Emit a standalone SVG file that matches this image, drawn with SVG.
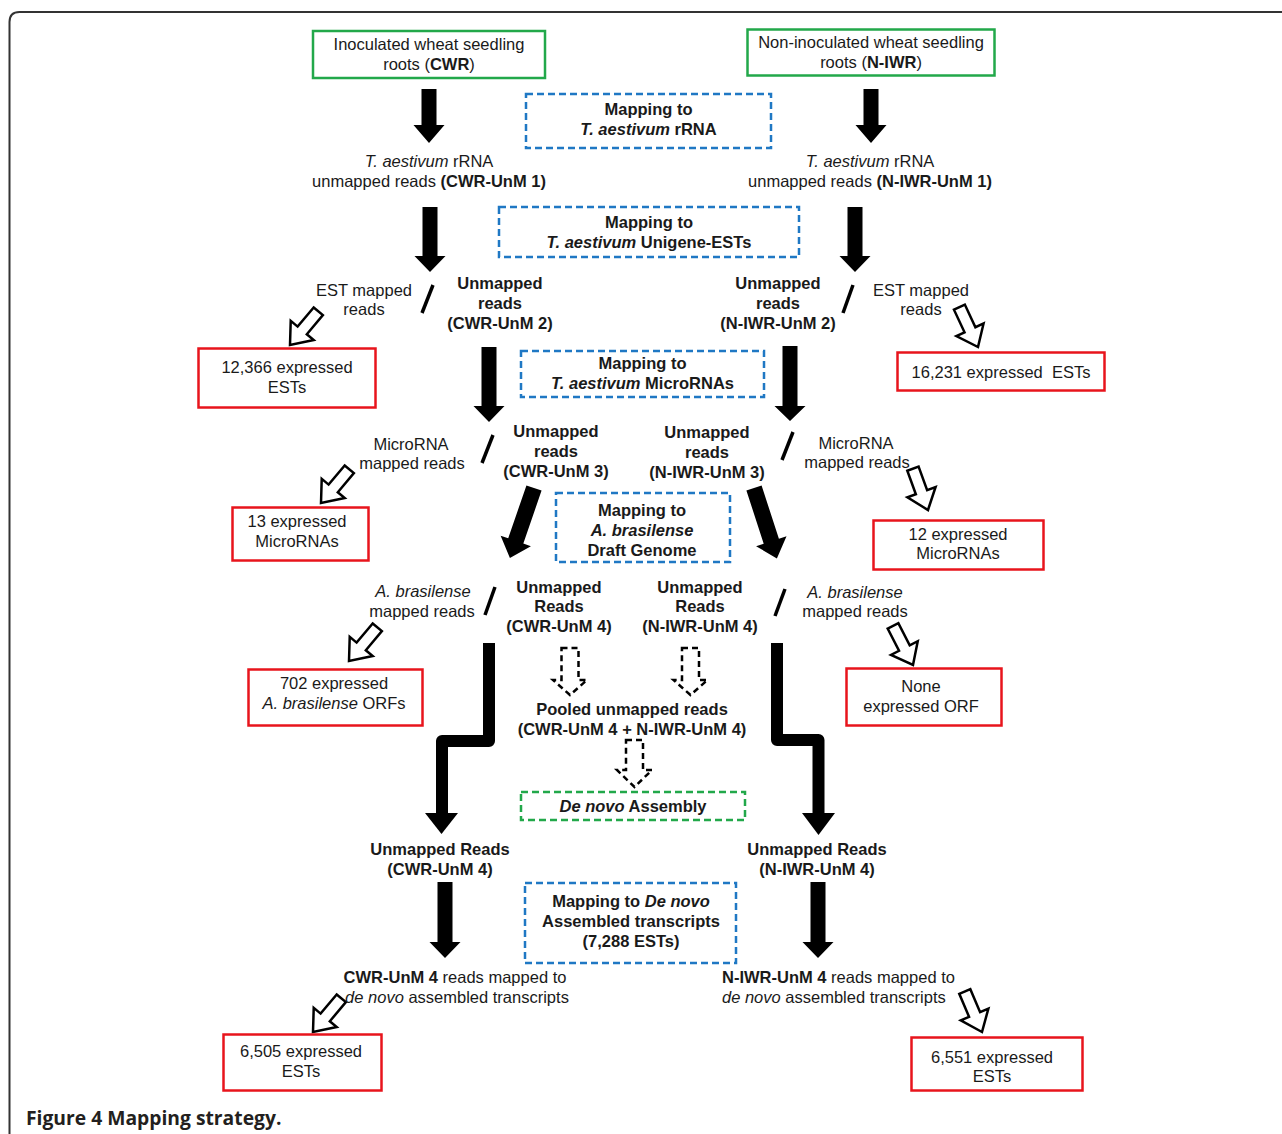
<svg xmlns="http://www.w3.org/2000/svg" xmlns:xlink="http://www.w3.org/1999/xlink" width="1282" height="1134" viewBox="0 0 1282 1134">
<style>
.t{font-family:"Liberation Sans",Arial,sans-serif;font-size:16.5px;fill:#1a1a1a;text-anchor:middle}
.b{font-weight:bold}
.i{font-style:italic}
.gbox{fill:none;stroke:#22a84a;stroke-width:2.5}
.gdash{fill:none;stroke:#22a84a;stroke-width:2.5;stroke-dasharray:7 4}
.bbox{fill:none;stroke:#1f78c4;stroke-width:2.5;stroke-dasharray:7 4}
.rbox{fill:none;stroke:#e8141c;stroke-width:2.5}
.arrow{fill:#000}
.oarrow{fill:#fff;stroke:#000;stroke-width:2.5}
.darrow{fill:#fff;stroke:#000;stroke-width:2.5;stroke-dasharray:6 4}
.slash{stroke:#000;stroke-width:3.5}
.bent{fill:none;stroke:#000;stroke-width:12;stroke-linejoin:round}
.cap{font-family:"Open Sans","Liberation Sans",sans-serif;font-size:19.3px;font-weight:bold;fill:#231f20}
</style>
<defs>
<path id="oa" d="M-6,-44 H6 V-19 H15 L0,0 L-15,-19 H-6 Z"/>
<path id="da" d="M-8,0 H8 V56 H16 L0,74 L-16,56 H-8 Z"/>
</defs>
<rect width="1282" height="1134" fill="#fff"/>
<path d="M9.5,1134 V22 Q9.5,12 19.5,12 H1282" fill="none" stroke="#333" stroke-width="2"/>

<g id="connectors">
<polygon class="arrow" points="421.5,89 436.5,89 436.5,125 444.5,125 429,143 413.5,125 421.5,125"/>
<polygon class="arrow" points="863.5,89 878.5,89 878.5,125 886.5,125 871,143 855.5,125 863.5,125"/>
<polygon class="arrow" points="422.5,207 437.5,207 437.5,256 445.5,256 430,272 414.5,256 422.5,256"/>
<polygon class="arrow" points="847.5,207 862.5,207 862.5,256 870.5,256 855,272 839.5,256 847.5,256"/>
<polygon class="arrow" points="481.5,347 496.5,347 496.5,406 504.5,406 489,422 473.5,406 481.5,406"/>
<polygon class="arrow" points="782.5,346 797.5,346 797.5,406 805.5,406 790,421 774.5,406 782.5,406"/>
<use xlink:href="#da" class="arrow" transform="translate(534,488) rotate(19)"/>
<use xlink:href="#da" class="arrow" transform="translate(754,488) rotate(-18)"/>
<path class="bent" d="M489,643 V741 H442 V815"/>
<polygon class="arrow" points="425,813 458,813 441.5,834"/>
<path class="bent" d="M777,643 V740 H818.5 V815"/>
<polygon class="arrow" points="802,813 835,813 818.5,835"/>
<polygon class="arrow" points="437.5,882 452.5,882 452.5,942 460.5,942 445,958 429.5,942 437.5,942"/>
<polygon class="arrow" points="810.5,882 825.5,882 825.5,942 833.5,942 818,958 802.5,942 810.5,942"/>
<path class="darrow" d="M561.5,648 H578.5 V680 H587 L570,695 L553,680 H561.5 Z"/>
<path class="darrow" d="M682,648 H699 V680 H707.5 L690.5,695 L673.5,680 H682 Z"/>
<path class="darrow" d="M626,740 H643 V770 H652 L634.5,787 L617,770 H626 Z"/>
<use xlink:href="#oa" class="oarrow" transform="translate(290,345) rotate(40)"/>
<use xlink:href="#oa" class="oarrow" transform="translate(978,347) rotate(-25)"/>
<use xlink:href="#oa" class="oarrow" transform="translate(321,503) rotate(40)"/>
<use xlink:href="#oa" class="oarrow" transform="translate(928,510) rotate(-20)"/>
<use xlink:href="#oa" class="oarrow" transform="translate(349,661) rotate(40)"/>
<use xlink:href="#oa" class="oarrow" transform="translate(913,665) rotate(-27)"/>
<use xlink:href="#oa" class="oarrow" transform="translate(313,1032) rotate(40)"/>
<use xlink:href="#oa" class="oarrow" transform="translate(982,1032) rotate(-23)"/>
<line class="slash" x1="433" y1="285" x2="422" y2="313"/>
<line class="slash" x1="853" y1="285" x2="843" y2="313"/>
<line class="slash" x1="493" y1="435" x2="482" y2="463"/>
<line class="slash" x1="793" y1="432" x2="782" y2="460"/>
<line class="slash" x1="495" y1="587" x2="485" y2="615"/>
<line class="slash" x1="785" y1="589" x2="775" y2="616"/>
</g>

<g id="cwr">
<rect class="gbox" x="313" y="31" width="232" height="47"/>
<text class="t" x="429" y="50">Inoculated wheat seedling</text>
<text class="t" x="429" y="70">roots (<tspan class="b">CWR</tspan>)</text>
</g>
<g id="niwr">
<rect class="gbox" x="747.5" y="29.5" width="247" height="46"/>
<text class="t" x="871" y="48">Non-inoculated wheat seedling</text>
<text class="t" x="871" y="68">roots (<tspan class="b">N-IWR</tspan>)</text>
</g>
<g id="map-rrna">
<rect class="bbox" x="526" y="94" width="245" height="54"/>
<text class="t b" x="648.5" y="115">Mapping to</text>
<text class="t b" x="648.5" y="135"><tspan class="i">T. aestivum</tspan> rRNA</text>
</g>
<g id="cwr-unm1">
<text class="t" x="429" y="167"><tspan class="i">T. aestivum</tspan> rRNA</text>
<text class="t" x="429" y="187">unmapped reads <tspan class="b">(CWR-UnM 1)</tspan></text>
</g>
<g id="niwr-unm1">
<text class="t" x="870" y="167"><tspan class="i">T. aestivum</tspan> rRNA</text>
<text class="t" x="870" y="187">unmapped reads <tspan class="b">(N-IWR-UnM 1)</tspan></text>
</g>
<g id="map-est">
<rect class="bbox" x="499" y="207" width="300" height="50"/>
<text class="t b" x="649" y="228">Mapping to</text>
<text class="t b" x="649" y="248"><tspan class="i">T. aestivum</tspan> Unigene-ESTs</text>
</g>
<g id="cwr-est-mapped">
<text class="t" x="364" y="296">EST mapped</text>
<text class="t" x="364" y="315">reads</text>
</g>
<g id="cwr-unm2">
<text class="t b" x="500" y="289">Unmapped</text>
<text class="t b" x="500" y="309">reads</text>
<text class="t b" x="500" y="329">(CWR-UnM 2)</text>
</g>
<g id="niwr-unm2">
<text class="t b" x="778" y="289">Unmapped</text>
<text class="t b" x="778" y="309">reads</text>
<text class="t b" x="778" y="329">(N-IWR-UnM 2)</text>
</g>
<g id="niwr-est-mapped">
<text class="t" x="921" y="296">EST mapped</text>
<text class="t" x="921" y="315">reads</text>
</g>
<g id="cwr-ests">
<rect class="rbox" x="198.5" y="348.5" width="177" height="59"/>
<text class="t" x="287" y="373">12,366 expressed</text>
<text class="t" x="287" y="393">ESTs</text>
</g>
<g id="niwr-ests">
<rect class="rbox" x="897.5" y="352.5" width="207" height="38"/>
<text class="t" x="1001" y="378" xml:space="preserve">16,231 expressed  ESTs</text>
</g>
<g id="map-mirna">
<rect class="bbox" x="521" y="351" width="243" height="46"/>
<text class="t b" x="642.5" y="369">Mapping to</text>
<text class="t b" x="642.5" y="389"><tspan class="i">T. aestivum</tspan> MicroRNAs</text>
</g>
<g id="cwr-mirna-mapped">
<text class="t" x="411" y="450">MicroRNA</text>
<text class="t" x="412" y="469">mapped reads</text>
</g>
<g id="cwr-unm3">
<text class="t b" x="556" y="437">Unmapped</text>
<text class="t b" x="556" y="457">reads</text>
<text class="t b" x="556" y="477">(CWR-UnM 3)</text>
</g>
<g id="niwr-unm3">
<text class="t b" x="707" y="438">Unmapped</text>
<text class="t b" x="707" y="458">reads</text>
<text class="t b" x="707" y="478">(N-IWR-UnM 3)</text>
</g>
<g id="niwr-mirna-mapped">
<text class="t" x="856" y="449">MicroRNA</text>
<text class="t" x="857" y="468">mapped reads</text>
</g>
<g id="cwr-mirnas">
<rect class="rbox" x="232.5" y="507.5" width="136" height="53"/>
<text class="t" x="297" y="527">13 expressed</text>
<text class="t" x="297" y="547">MicroRNAs</text>
</g>
<g id="niwr-mirnas">
<rect class="rbox" x="873.5" y="520.5" width="170" height="49"/>
<text class="t" x="958" y="540">12 expressed</text>
<text class="t" x="958" y="559">MicroRNAs</text>
</g>
<g id="map-genome">
<rect class="bbox" x="556" y="493" width="174" height="69"/>
<text class="t b" x="642" y="516">Mapping to</text>
<text class="t b i" x="642" y="536">A. brasilense</text>
<text class="t b" x="642" y="556">Draft Genome</text>
</g>
<g id="cwr-ab-mapped">
<text class="t i" x="423" y="597">A. brasilense</text>
<text class="t" x="422" y="617">mapped reads</text>
</g>
<g id="cwr-unm4">
<text class="t b" x="559" y="593">Unmapped</text>
<text class="t b" x="559" y="612">Reads</text>
<text class="t b" x="559" y="632">(CWR-UnM 4)</text>
</g>
<g id="niwr-unm4">
<text class="t b" x="700" y="593">Unmapped</text>
<text class="t b" x="700" y="612">Reads</text>
<text class="t b" x="700" y="632">(N-IWR-UnM 4)</text>
</g>
<g id="niwr-ab-mapped">
<text class="t i" x="855" y="598">A. brasilense</text>
<text class="t" x="855" y="617">mapped reads</text>
</g>
<g id="cwr-orfs">
<rect class="rbox" x="248.5" y="669.5" width="174" height="56"/>
<text class="t" x="334" y="689">702 expressed</text>
<text class="t" x="334" y="709"><tspan class="i">A. brasilense</tspan> ORFs</text>
</g>
<g id="niwr-orfs">
<rect class="rbox" x="846.5" y="668.5" width="155" height="57"/>
<text class="t" x="921" y="692">None</text>
<text class="t" x="921" y="712">expressed ORF</text>
</g>
<g id="pooled">
<text class="t b" x="632" y="715">Pooled unmapped reads</text>
<text class="t b" x="632" y="735">(CWR-UnM 4 + N-IWR-UnM 4)</text>
</g>
<g id="assembly">
<rect class="gdash" x="521" y="792" width="224" height="28"/>
<text class="t b" x="633" y="812"><tspan class="i">De novo</tspan> Assembly</text>
</g>
<g id="cwr-unm4b">
<text class="t b" x="440" y="855">Unmapped Reads</text>
<text class="t b" x="440" y="875">(CWR-UnM 4)</text>
</g>
<g id="niwr-unm4b">
<text class="t b" x="817" y="855">Unmapped Reads</text>
<text class="t b" x="817" y="875">(N-IWR-UnM 4)</text>
</g>
<g id="map-denovo">
<rect class="bbox" x="525" y="883" width="211" height="80"/>
<text class="t b" x="631" y="907">Mapping to <tspan class="i">De novo</tspan></text>
<text class="t b" x="631" y="927">Assembled transcripts</text>
<text class="t b" x="631" y="947">(7,288 ESTs)</text>
</g>
<g id="cwr-denovo-mapped">
<text class="t" x="455" y="983"><tspan class="b">CWR-UnM 4</tspan> reads mapped to</text>
<text class="t" x="457" y="1003"><tspan class="i">de novo</tspan> assembled transcripts</text>
</g>
<g id="niwr-denovo-mapped">
<text class="t" x="722" y="983" style="text-anchor:start"><tspan class="b">N-IWR-UnM 4</tspan> reads mapped to</text>
<text class="t" x="722" y="1003" style="text-anchor:start"><tspan class="i">de novo</tspan> assembled transcripts</text>
</g>
<g id="cwr-final">
<rect class="rbox" x="223.5" y="1034.5" width="158" height="56"/>
<text class="t" x="301" y="1057">6,505 expressed</text>
<text class="t" x="301" y="1077">ESTs</text>
</g>
<g id="niwr-final">
<rect class="rbox" x="911.5" y="1037.5" width="171" height="53"/>
<text class="t" x="992" y="1063">6,551 expressed</text>
<text class="t" x="992" y="1082">ESTs</text>
</g>
<text class="cap" x="26" y="1125">Figure 4 Mapping strategy.</text>
</svg>
